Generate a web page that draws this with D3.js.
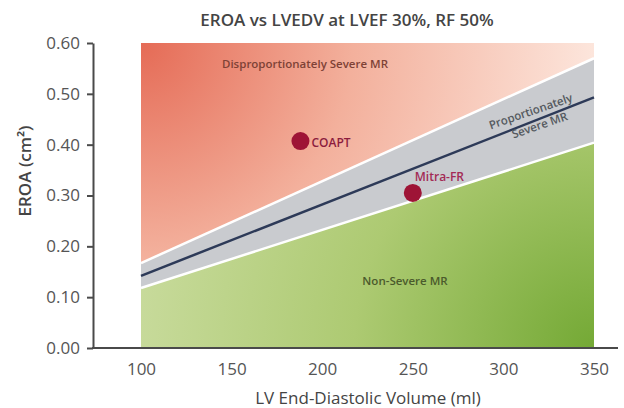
<!DOCTYPE html>
<html>
<head>
<meta charset="utf-8">
<script src="https://cdn.jsdelivr.net/npm/d3@7"></script>
<style>
  html, body { margin: 0; padding: 0; background: #fff; }
  svg { display: block; font-family: "Open Sans", sans-serif; }
</style>
</head>
<body>
<div id="chart"></div>
<script>
var width = 624, height = 408;

// data
var lvedv = [100, 350];
var upperBound = [0.167, 0.570];
var proportionalLine = [0.142, 0.493];
var lowerBound = [0.118, 0.404];
var yTicks = [0, 0.1, 0.2, 0.3, 0.4, 0.5, 0.6];
var xTicks = [100, 150, 200, 250, 300, 350];
var trials = ["COAPT", "Mitra-FR"];
var trialLvedv = [188, 250];
var trialEroa = [0.407, 0.305];

var svg = d3.select("#chart").append("svg")
    .attr("width", width)
    .attr("height", height);

var x = d3.scaleLinear().domain([100, 350]).range([141, 594]);
var y = d3.scaleLinear().domain([0, 0.6]).range([348, 43]);

var defs = svg.append("defs");

var redGrad = defs.append("radialGradient")
    .attr("id", "redGrad")
    .attr("gradientUnits", "userSpaceOnUse")
    .attr("cx", x(100)).attr("cy", y(0.6)).attr("r", 470);
redGrad.append("stop").attr("offset", 0).attr("stop-color", "#e56b56");
redGrad.append("stop").attr("offset", 0.45).attr("stop-color", "#f3b09c");
redGrad.append("stop").attr("offset", 1).attr("stop-color", "#fde9e0");

var greenGrad = defs.append("radialGradient")
    .attr("id", "greenGrad")
    .attr("gradientUnits", "userSpaceOnUse")
    .attr("cx", x(350)).attr("cy", y(0)).attr("r", 480);
greenGrad.append("stop").attr("offset", 0).attr("stop-color", "#74a935");
greenGrad.append("stop").attr("offset", 0.5).attr("stop-color", "#adca72");
greenGrad.append("stop").attr("offset", 1).attr("stop-color", "#cadc9f");

var rows = lvedv.map(function (v, i) {
    return {x: v, up: upperBound[i], mid: proportionalLine[i], low: lowerBound[i]};
});

// regions
svg.append("path")
    .datum(rows)
    .attr("fill", "url(#redGrad)")
    .attr("d", d3.area()
        .x(function (d) { return x(d.x); })
        .y0(function (d) { return y(d.up); })
        .y1(function () { return y(0.6); }));

svg.append("path")
    .datum(rows)
    .attr("fill", "#c9cbcf")
    .attr("d", d3.area()
        .x(function (d) { return x(d.x); })
        .y0(function (d) { return y(d.low); })
        .y1(function (d) { return y(d.up); }));

svg.append("path")
    .datum(rows)
    .attr("fill", "url(#greenGrad)")
    .attr("d", d3.area()
        .x(function (d) { return x(d.x); })
        .y0(function () { return y(0); })
        .y1(function (d) { return y(d.low); }));

// white borders of the band
["up", "low"].forEach(function (k) {
    svg.append("path")
        .datum(rows)
        .attr("fill", "none")
        .attr("stroke", "#ffffff")
        .attr("stroke-width", 2.5)
        .attr("d", d3.line()
            .x(function (d) { return x(d.x); })
            .y(function (d) { return y(d[k]); }));
});

svg.append("path")
    .datum(rows)
    .attr("fill", "none")
    .attr("stroke", "#2d3a58")
    .attr("stroke-width", 2.5)
    .attr("d", d3.line()
        .x(function (d) { return x(d.x); })
        .y(function (d) { return y(d.mid); }));

// region labels
svg.append("text")
    .attr("x", 305).attr("y", 68)
    .attr("text-anchor", "middle")
    .style("font-size", "11.5px").style("font-weight", 600)
    .attr("fill", "#7e4236")
    .text("Disproportionately Severe MR");

svg.append("text")
    .attr("x", 405).attr("y", 285)
    .attr("text-anchor", "middle")
    .style("font-size", "11.5px").style("font-weight", 600)
    .attr("fill", "#4b5a2c")
    .text("Non-Severe MR");

var prop = svg.append("g")
    .attr("transform", "translate(533,118) rotate(-19)");
prop.append("text")
    .attr("x", 0).attr("y", -3)
    .attr("text-anchor", "middle")
    .style("font-size", "11.5px").style("font-weight", 600)
    .attr("fill", "#555a60")
    .text("Proportionately");
prop.append("text")
    .attr("x", 4).attr("y", 13)
    .attr("text-anchor", "middle")
    .style("font-size", "11.5px").style("font-weight", 600)
    .attr("fill", "#555a60")
    .text("Severe MR");

// trial points
svg.selectAll(".trial")
    .data(trials)
    .enter().append("circle")
    .attr("class", "trial")
    .attr("cx", function (d, i) { return x(trialLvedv[i]); })
    .attr("cy", function (d, i) { return y(trialEroa[i]); })
    .attr("r", 9)
    .attr("fill", "#9e1436");

svg.append("text")
    .attr("x", x(trialLvedv[0]) + 11).attr("y", y(trialEroa[0]) + 6)
    .style("font-size", "12px").style("font-weight", 600)
    .attr("fill", "#8c1c3e")
    .text(trials[0]);

svg.append("text")
    .attr("x", x(trialLvedv[1]) + 2).attr("y", y(trialEroa[1]) - 12)
    .style("font-size", "12px").style("font-weight", 600)
    .attr("fill", "#a32a55")
    .text(trials[1]);

// axes
var yAxis = svg.append("g")
    .attr("transform", "translate(93,0)")
    .call(d3.axisLeft(y)
        .tickValues(yTicks)
        .tickFormat(d3.format(".2f"))
        .tickSize(6)
        .tickSizeOuter(0)
        .tickPadding(7));
yAxis.select(".domain").attr("stroke", "#4a4a4a").attr("stroke-width", 2);
yAxis.selectAll(".tick line").attr("stroke", "#4a4a4a").attr("stroke-width", 2);
yAxis.selectAll(".tick text")
    .style("font-size", "17px")
    .style("font-family", "'Open Sans', sans-serif")
    .attr("fill", "#555");

var xAxis = svg.append("g")
    .attr("transform", "translate(0," + y(0) + ")")
    .call(d3.axisBottom(x)
        .tickValues(xTicks)
        .tickFormat(d3.format("d"))
        .tickSize(0)
        .tickPadding(15));
xAxis.select(".domain").remove();
xAxis.selectAll(".tick text")
    .style("font-size", "17px")
    .style("font-family", "'Open Sans', sans-serif")
    .attr("fill", "#555");

svg.append("line")
    .attr("x1", 92).attr("x2", 618)
    .attr("y1", y(0)).attr("y2", y(0))
    .attr("stroke", "#4a4a4a")
    .attr("stroke-width", 2);

// titles
svg.append("text")
    .attr("x", 347).attr("y", 26)
    .attr("text-anchor", "middle")
    .style("font-size", "17px").style("font-weight", 600)
    .attr("fill", "#444")
    .text("EROA vs LVEDV at LVEF 30%, RF 50%");

svg.append("text")
    .attr("x", 368).attr("y", 404)
    .attr("text-anchor", "middle")
    .style("font-size", "17px")
    .attr("fill", "#444")
    .text("LV End-Diastolic Volume (ml)");

svg.append("text")
    .attr("transform", "translate(31,171) rotate(-90)")
    .attr("text-anchor", "middle")
    .style("font-size", "17px").style("font-weight", 600)
    .attr("fill", "#444")
    .text("EROA (cm²)");
</script>
</body>
</html>
